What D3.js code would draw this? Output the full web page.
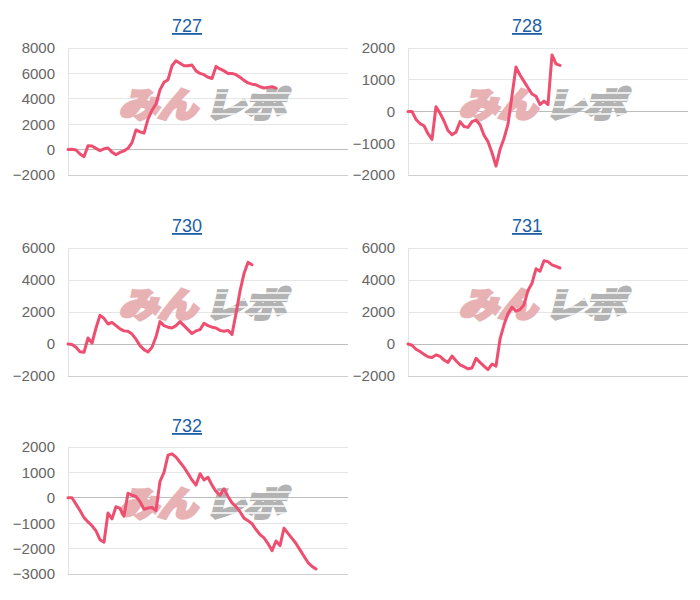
<!DOCTYPE html>
<html>
<head>
<meta charset="utf-8">
<script src="https://cdn.jsdelivr.net/npm/d3@7/dist/d3.min.js"></script>
<style>
  html, body { margin: 0; padding: 0; background: #ffffff; }
  svg { display: block; }
</style>
</head>
<body>
<svg id="chart" width="700" height="600"></svg>
<script>
// ---- data ----
const xLabels = d3.range(1, 72);   // shared category axis (71 slots)

const titles = ["727", "728", "730", "731", "732"];

const series727 = [0, 20, -30, -350, -560, 300, 280, 100, -80, 60, 130, -200, -400, -220, -100, 100,
  550, 1550, 1400, 1300, 2400, 3100, 3600, 4700, 5300, 5500, 6600, 7000, 6800, 6600, 6600, 6660,
  6200, 6000, 5900, 5700, 5600, 6550, 6350, 6200, 6000, 6000, 5900, 5700, 5450, 5250, 5150, 5100,
  4950, 4850, 4900, 4950, 4840];

const series728 = [0, 0, -250, -380, -450, -700, -880, 150, -50, -300, -600, -730, -650, -320, -470,
  -500, -320, -270, -420, -750, -950, -1300, -1720, -1200, -850, -400, 500, 1400, 1150, 950, 750,
  550, 480, 220, 330, 220, 1780, 1500, 1450];

const series730 = [0, -30, -200, -480, -520, 375, 60, 1000, 1800, 1600, 1250, 1350, 1150, 950, 820,
  790, 620, 300, -100, -350, -500, -200, 450, 1400, 1150, 1050, 1000, 1150, 1400, 1150, 900, 650,
  820, 900, 1300, 1150, 1050, 1000, 850, 800, 850, 600, 1900, 3300, 4400, 5100, 4950];

const series731 = [0, -80, -330, -470, -650, -800, -850, -680, -780, -1000, -1150, -750, -1050, -1300,
  -1420, -1550, -1500, -900, -1150, -1380, -1600, -1250, -1380, 300, 1200, 1900, 2300, 2050, 2150,
  2450, 3350, 3800, 4700, 4550, 5200, 5150, 4950, 4850, 4750];

const series732 = [0, 0, -250, -500, -780, -950, -1100, -1300, -1650, -1750, -600, -830, -350, -420,
  -720, 180, 100, 50, -150, -450, -400, -380, -500, 650, 1000, 1680, 1730, 1600, 1400, 1200, 950,
  700, 500, 950, 700, 810, 500, 250, 100, 355, 50, -200, -350, -550, -800, -900, -1020, -1250,
  -1450, -1580, -1800, -2080, -1700, -1880, -1200, -1400, -1600, -1800, -2050, -2300, -2550, -2700, -2800];

const yTicks727 = [-2000, 0, 2000, 4000, 6000, 8000];
const yTicks728 = [-2000, -1000, 0, 1000, 2000];
const yTicks730 = [-2000, 0, 2000, 4000, 6000];
const yTicks731 = [-2000, 0, 2000, 4000, 6000];
const yTicks732 = [-3000, -2000, -1000, 0, 1000, 2000];

const allSeries = [series727, series728, series730, series731, series732];
const allTicks = [yTicks727, yTicks728, yTicks730, yTicks731, yTicks732];

// ---- layout ----
const colLeft = [68, 408];
const plotW = 280;
const rowTop = [48, 248, 447];
const plotH = [127, 128, 127];
const titleX = [187, 527];
const titleY = [32, 232, 432];

const lineColor = "#ee4f70";
const svg = d3.select("#chart");
const defs = svg.append("defs");

allSeries.forEach((vals, k) => {
  const col = k % 2, row = Math.floor(k / 2);
  const left = colLeft[col], top = rowTop[row], h = plotH[row];
  const ticks = allTicks[k];

  const x = d3.scalePoint().domain(xLabels).range([left, left + plotW]);
  const y = d3.scaleLinear().domain([d3.min(ticks), d3.max(ticks)]).range([top + h, top]);

  const g = svg.append("g");

  // title (link style)
  g.append("text")
    .attr("x", titleX[col]).attr("y", titleY[row])
    .attr("text-anchor", "middle")
    .attr("font-family", "Liberation Sans, Arial, sans-serif")
    .attr("font-size", 18)
    .attr("fill", "#1c5fa6")
    .attr("text-decoration", "underline")
    .text(titles[k]);

  // grid lines
  g.append("g").selectAll("line").data(ticks).join("line")
    .attr("x1", left).attr("x2", left + plotW)
    .attr("y1", d => y(d)).attr("y2", d => y(d))
    .attr("stroke", d => (d === 0 ? "#bdbdbd" : (d === d3.min(ticks) ? "#cfcfcf" : "#e6e6e6")))
    .attr("stroke-width", 1)
    .attr("shape-rendering", "crispEdges");

  // left axis line
  g.append("line")
    .attr("x1", left).attr("x2", left)
    .attr("y1", top).attr("y2", top + h)
    .attr("stroke", "#e3e3e3")
    .attr("shape-rendering", "crispEdges");

  // y axis via d3.axisLeft (labels only)
  const ax = g.append("g")
    .attr("transform", `translate(${left},0)`)
    .call(d3.axisLeft(y).tickValues(ticks).tickFormat(d3.format("d")).tickSize(0).tickPadding(13));
  ax.select(".domain").remove();
  ax.selectAll("text")
    .attr("font-family", "Liberation Sans, Arial, sans-serif")
    .attr("font-size", 15)
    .attr("fill", "#666666");

  // watermark
  const cx = left + plotW / 2 - 3;
  const by = top + 69;
  const wm = g.append("g").attr("transform", `translate(${cx},${by}) skewX(-14)`);
  const fontAttrs = sel => sel
    .attr("font-family", "Noto Sans CJK JP, sans-serif")
    .attr("font-weight", 700)
    .attr("font-size", 34);
  wm.append("text")
    .attr("x", -86).attr("y", 0)
    .call(fontAttrs)
    .attr("textLength", 78).attr("lengthAdjust", "spacingAndGlyphs")
    .attr("fill", "#e8b2b4").attr("stroke", "#e8b2b4").attr("stroke-width", 4)
    .attr("stroke-linejoin", "miter")
    .text("みん");
  wm.append("text")
    .attr("x", 0).attr("y", 0)
    .call(fontAttrs)
    .attr("textLength", 80).attr("lengthAdjust", "spacingAndGlyphs")
    .attr("fill", "#b3b3b3").attr("stroke", "#b3b3b3").attr("stroke-width", 4)
    .text("レポ");
  // white speed stripes across the grey glyphs (masked to glyph shape)
  const mid = "wmmask" + k;
  const mask = defs.append("mask").attr("id", mid).attr("maskUnits", "userSpaceOnUse")
    .attr("x", -200).attr("y", -100).attr("width", 400).attr("height", 200);
  mask.append("text")
    .attr("x", 0).attr("y", 0)
    .call(fontAttrs)
    .attr("textLength", 80).attr("lengthAdjust", "spacingAndGlyphs")
    .attr("fill", "#fff").attr("stroke", "#fff").attr("stroke-width", 4)
    .text("レポ");
  wm.append("g").attr("mask", `url(#${mid})`)
    .selectAll("line").data([-24, -17, -10, -3]).join("line")
    .attr("x1", -6).attr("x2", 90)
    .attr("y1", d => d).attr("y2", d => d)
    .attr("stroke", "#ffffff").attr("stroke-width", 1.5);

  // line
  const line = d3.line()
    .x((d, i) => x(xLabels[i]))
    .y(d => y(d));
  g.append("path")
    .datum(vals)
    .attr("d", line)
    .attr("fill", "none")
    .attr("stroke", lineColor)
    .attr("stroke-width", 3)
    .attr("stroke-linejoin", "round")
    .attr("stroke-linecap", "round");
});
</script>
</body>
</html>
